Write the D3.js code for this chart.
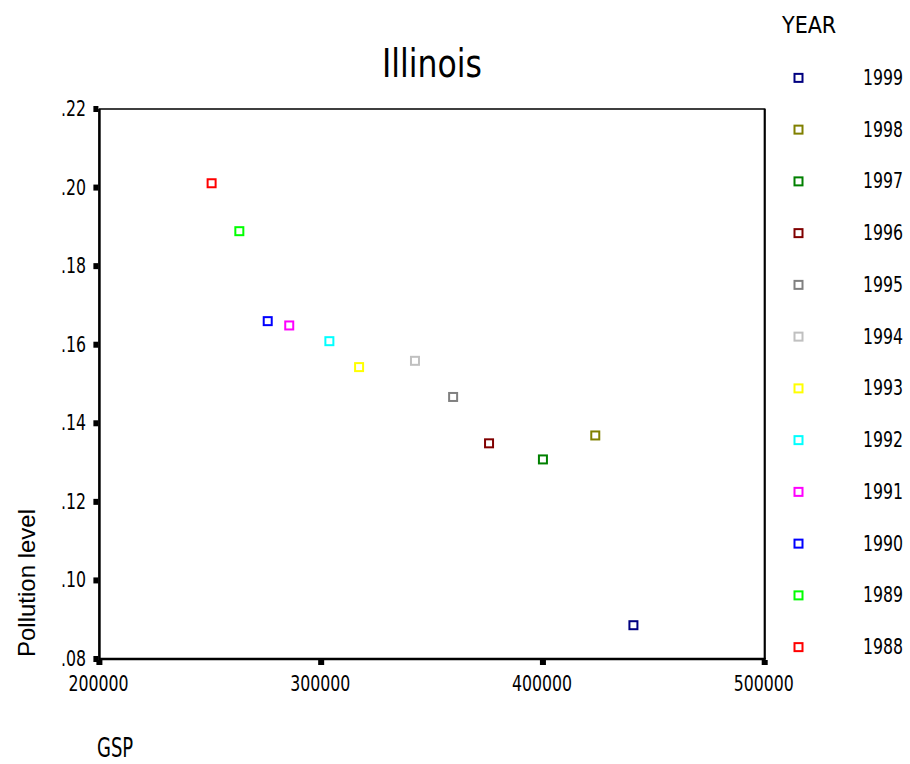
<!DOCTYPE html>
<html>
<head>
<meta charset="utf-8">
<script src="https://cdn.jsdelivr.net/npm/d3@7"></script>
<style>
  body { margin: 0; background: #fff; }
  text { font-family: "DejaVu Sans Condensed", "DejaVu Sans", sans-serif; fill: #000; }
</style>
</head>
<body>
<div id="container"></div>
<script>
var years = [1988, 1989, 1990, 1991, 1992, 1993, 1994, 1995, 1996, 1997, 1998, 1999];
var gsp = [250600, 263100, 275900, 285600, 303700, 317100, 342300, 359500, 375700, 400000, 423600, 440800];
var pollution = [0.2011, 0.1889, 0.1660, 0.1649, 0.1609, 0.1543, 0.1559, 0.1467, 0.1349, 0.1308, 0.1369, 0.0886];
var colors = ["#ff0000", "#00ff00", "#0000ff", "#ff00ff", "#00ffff", "#ffff00",
              "#c0c0c0", "#808080", "#800000", "#008000", "#808000", "#000080"];
var xTicks = [200000, 300000, 400000, 500000];
var yTicks = [0.08, 0.10, 0.12, 0.14, 0.16, 0.18, 0.20, 0.22];

const width = 910;
const height = 764;

// plot box in page coordinates
var box = {left: 99.4, right: 764.7, top: 109, bottom: 659};

const x = d3.scaleLinear().domain([200000, 500000]).range([box.left, box.right]);
const y = d3.scaleLinear().domain([0.08, 0.22]).range([box.bottom, box.top]);

const svg = d3.select("#container")
    .append("svg")
        .attr("width", width)
        .attr("height", height);

// text with a slight vertical stretch, like the original export
function label(g, str, px, py, size, sy, anchor) {
    return g.append("text")
        .attr("transform", "translate(" + px + "," + py + ") scale(1," + sy + ")")
        .attr("text-anchor", anchor || "start")
        .style("font-size", size + "px")
        .text(str);
}

// frame
svg.append("rect")
    .attr("x", box.left)
    .attr("y", box.top)
    .attr("width", box.right - box.left)
    .attr("height", box.bottom - box.top)
    .attr("fill", "none")
    .attr("stroke", "#000")
    .attr("stroke-width", 1.5);

svg.append("line")
    .attr("x1", box.left).attr("x2", box.left)
    .attr("y1", box.top).attr("y2", box.bottom + 1)
    .attr("stroke", "#000").attr("stroke-width", 2.5);
svg.append("line")
    .attr("x1", box.left).attr("x2", box.right + 1)
    .attr("y1", box.bottom).attr("y2", box.bottom)
    .attr("stroke", "#000").attr("stroke-width", 2.5);
svg.append("line")
    .attr("x1", box.right).attr("x2", box.right)
    .attr("y1", box.top).attr("y2", box.bottom)
    .attr("stroke", "#000").attr("stroke-width", 2);

// y ticks
var yAxis = svg.append("g");
yAxis.selectAll("rect")
    .data(yTicks)
    .join("rect")
    .attr("x", box.left - 6)
    .attr("y", d => y(d) - 3)
    .attr("width", 5)
    .attr("height", 6)
    .attr("fill", "#000");
yTicks.forEach(d => {
    label(yAxis, d3.format(".2f")(d).replace(/^0/, ""), 86, y(d) + 7, 17.5, 1.25, "end");
});

// x ticks
var xAxis = svg.append("g");
xAxis.selectAll("rect")
    .data(xTicks)
    .join("rect")
    .attr("x", d => x(d) - 3)
    .attr("y", box.bottom + 1)
    .attr("width", 6)
    .attr("height", 5)
    .attr("fill", "#000");
xTicks.forEach(d => {
    label(xAxis, d, x(d) - 1, 691, 17.5, 1.25, "middle");
});

// title and axis titles
label(svg, "Illinois", 432, 77, 35, 1.1, "middle");
label(svg, "GSP", 97, 757, 20, 1.3, "start");
svg.append("text")
    .attr("transform", "translate(35,583) rotate(-90)")
    .attr("text-anchor", "middle")
    .style("font-family", "'Liberation Sans', Arial, sans-serif")
    .style("font-size", "24px")
    .text("Pollution level");

// points
var pts = years.map((yr, i) => ({year: yr, gsp: gsp[i], val: pollution[i], color: colors[i]}));
svg.append("g")
    .selectAll("rect")
    .data(pts)
    .join("rect")
    .attr("x", d => x(d.gsp) - 4)
    .attr("y", d => y(d.val) - 4)
    .attr("width", 8)
    .attr("height", 8)
    .attr("fill", "none")
    .attr("stroke", d => d.color)
    .attr("stroke-width", 2);

// legend, newest year on top
var legendYears = pts.slice().reverse();
const ly = d3.scaleBand()
    .domain(legendYears.map(d => d.year))
    .range([52, 673]);
var legend = svg.append("g");
label(legend, "YEAR", 782, 33, 23, 1.0, "start");
legend.selectAll("rect")
    .data(legendYears)
    .join("rect")
    .attr("x", 794.5)
    .attr("y", d => ly(d.year) + ly.bandwidth() / 2 - 4)
    .attr("width", 8)
    .attr("height", 8)
    .attr("fill", "none")
    .attr("stroke", d => d.color)
    .attr("stroke-width", 2);
legendYears.forEach(d => {
    label(legend, d.year, 863, ly(d.year) + ly.bandwidth() / 2 + 7, 17.5, 1.25, "start");
});
</script>
</body>
</html>
